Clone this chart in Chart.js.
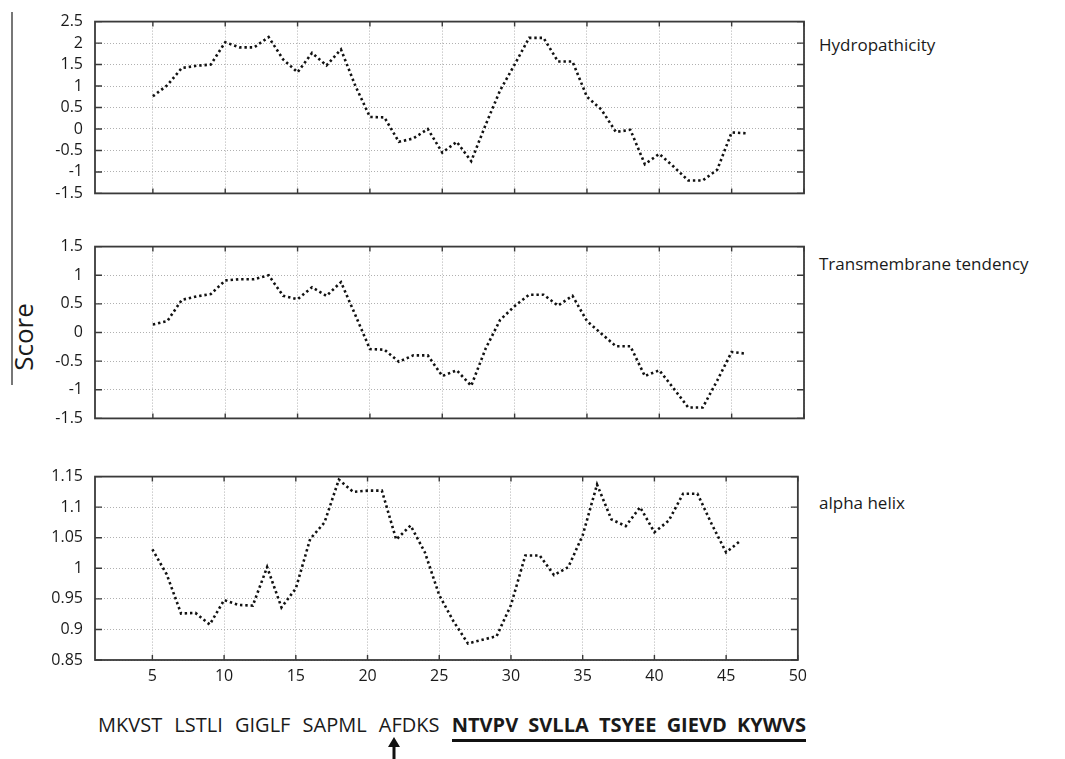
<!DOCTYPE html>
<html lang="en">
<head>
  <meta charset="UTF-8">
  <title>Score profiles</title>
  <script src="https://cdn.jsdelivr.net/npm/chart.js"></script>
  <style>
    body {
      margin: 0;
      background: #fff;
      font-family: 'Open Sans', sans-serif;
      color: #1a1a1a;
    }
    #wrap { position: relative; width: 1065px; height: 759px; overflow: hidden; }
    canvas { position: absolute; left: 0; }
    .name { position: absolute; left: 819px; font-size: 17px; line-height: 22px; white-space: nowrap; }
    #frameLine { position: absolute; left: 11px; top: 12px; width: 2px; height: 373px; background: #777; }
    #score {
      position: absolute; left: 23px; top: 337px;
      font-size: 26px; line-height: 26px;
      transform: translate(-50%, -50%) rotate(-90deg);
      white-space: nowrap;
    }
    #seq {
      position: absolute; left: 98px; top: 712px;
      font-size: 20px; line-height: 26px; white-space: nowrap; word-spacing: 7px;
    }
    #seq b { display: inline-block; border-bottom: 3px solid #111; line-height: 22px; padding-bottom: 3px; word-spacing: 5px; }
    #arrow { position: absolute; left: 387px; top: 737px; }
  </style>
</head>
<body>
<div id="wrap">
  <div id="frameLine"></div>
  <div id="score">Score</div>

  <canvas id="c1" width="814" height="215" style="top:0px"></canvas>
  <canvas id="c2" width="814" height="215" style="top:225px"></canvas>
  <canvas id="c3" width="814" height="240" style="top:455px"></canvas>

  <div class="name" style="top:34px">Hydropathicity</div>
  <div class="name" style="top:253px">Transmembrane tendency</div>
  <div class="name" style="top:492px">alpha helix</div>

  <div id="seq">MKVST LSTLI GIGLF SAPML AFDKS <b>NTVPV SVLLA TSYEE GIEVD KYWVS</b></div>
  <svg id="arrow" width="14" height="22">
    <polygon points="7,0 13,10 1,10" fill="#111"/>
    <rect x="5.5" y="8" width="3" height="14" fill="#111"/>
  </svg>
</div>

<script>
  // residue positions (centre of the sliding window)
  const positions = [5, 6, 7, 8, 9, 10, 11, 12, 13, 14, 15, 16, 17, 18, 19, 20, 21, 22, 23, 24, 25,
                     26, 27, 28, 29, 30, 31, 32, 33, 34, 35, 36, 37, 38, 39, 40, 41, 42, 43, 44, 45, 46];

  const hydropathicity = [0.76, 1.02, 1.42, 1.47, 1.5, 2.02, 1.9, 1.9, 2.14, 1.62, 1.32, 1.77, 1.48, 1.85,
                          1.0, 0.28, 0.27, -0.3, -0.22, 0.0, -0.55, -0.3, -0.75, 0.1, 0.9, 1.5, 2.12, 2.12,
                          1.57, 1.57, 0.75, 0.45, -0.07, -0.02, -0.82, -0.58, -0.88, -1.2, -1.2, -0.95, -0.08, -0.1];

  const transmembrane = [0.14, 0.2, 0.57, 0.63, 0.67, 0.91, 0.93, 0.93, 1.0, 0.64, 0.58, 0.79, 0.64, 0.88,
                         0.3, -0.29, -0.3, -0.51, -0.4, -0.4, -0.76, -0.66, -0.93, -0.28, 0.22, 0.46, 0.66, 0.66,
                         0.47, 0.64, 0.2, -0.02, -0.24, -0.24, -0.76, -0.66, -0.98, -1.31, -1.31, -0.84, -0.34, -0.37];

  const alphaHelix = [1.031, 0.99, 0.926, 0.927, 0.908, 0.948, 0.94, 0.939, 1.002, 0.936, 0.967, 1.048, 1.075, 1.145,
                      1.125, 1.127, 1.127, 1.047, 1.07, 1.026, 0.956, 0.913, 0.877, 0.883, 0.889, 0.94, 1.021, 1.021,
                      0.989, 1.002, 1.054, 1.137, 1.08, 1.069, 1.1, 1.059, 1.078, 1.122, 1.122, 1.072, 1.026, 1.045];

  const xTicks = [5, 10, 15, 20, 25, 30, 35, 40, 45, 50];
  const yTicksHydro = [-1.5, -1, -0.5, 0, 0.5, 1, 1.5, 2, 2.5];
  const yTicksTrans = [-1.5, -1, -0.5, 0, 0.5, 1, 1.5];
  const yTicksAlpha = [0.85, 0.9, 0.95, 1, 1.05, 1.1, 1.15];

  const tickFont = { family: "'Open Sans', sans-serif", size: 16 };

  // box round the plot area, with small inward ticks on all four sides
  const framePlugin = {
    id: 'frame',
    afterDatasetsDraw(chart) {
      const { ctx, chartArea: a, scales: { x, y } } = chart;
      ctx.save();
      ctx.setLineDash([]);
      ctx.strokeStyle = '#3a3a3a';
      ctx.lineWidth = 1.8;
      ctx.strokeRect(a.left, a.top, a.right - a.left, a.bottom - a.top);
      ctx.lineWidth = 1.4;
      ctx.beginPath();
      x.ticks.forEach(t => {
        const px = x.getPixelForValue(t.value);
        ctx.moveTo(px, a.top); ctx.lineTo(px, a.top + 5);
        ctx.moveTo(px, a.bottom); ctx.lineTo(px, a.bottom - 5);
      });
      y.ticks.forEach(t => {
        const py = y.getPixelForValue(t.value);
        ctx.moveTo(a.right, py); ctx.lineTo(a.right - 7, py);
        ctx.moveTo(a.left, py); ctx.lineTo(a.left + 7, py);
      });
      ctx.stroke();
      ctx.restore();
    }
  };

  function makePanel(id, values, yMin, yMax, yTicks, showX, pad) {
    new Chart(document.getElementById(id), {
      type: 'line',
      data: {
        datasets: [{
          data: positions.map((p, i) => ({ x: p, y: values[i] })),
          borderColor: '#111',
          borderWidth: 2.6,
          borderDash: [2.4, 2.9],
          pointRadius: 0,
          tension: 0,
          fill: false
        }]
      },
      options: {
        responsive: false,
        animation: false,
        layout: { padding: pad },
        plugins: { legend: { display: false }, tooltip: { enabled: false } },
        scales: {
          x: {
            type: 'linear',
            min: 1,
            max: 50,
            afterBuildTicks: s => { s.ticks = xTicks.map(v => ({ value: v })); },
            afterFit: s => { s.height = showX ? 30 : 0; },
            grid: { color: '#b0b0b0', lineWidth: 1, drawTicks: false },
            border: { display: false, dash: [1, 2] },
            ticks: { display: showX, padding: 7, color: '#1a1a1a', font: tickFont }
          },
          y: {
            min: yMin,
            max: yMax,
            afterBuildTicks: s => { s.ticks = yTicks.map(v => ({ value: v })); },
            afterFit: s => { s.width = 95; },
            grid: { color: '#b0b0b0', lineWidth: 1, drawTicks: false },
            border: { display: false, dash: [1, 2] },
            ticks: { padding: 12, color: '#1a1a1a', font: tickFont, callback: v => String(v) }
          }
        }
      },
      plugins: [framePlugin]
    });
  }

  makePanel('c1', hydropathicity, -1.5, 2.5, yTicksHydro, false, { top: 20, bottom: 13, right: 10 });
  makePanel('c2', transmembrane, -1.5, 1.5, yTicksTrans, false, { top: 16, bottom: 14, right: 10 });
  makePanel('c3', alphaHelix, 0.85, 1.15, yTicksAlpha, true, { top: 21, bottom: 5, right: 10 });
</script>
</body>
</html>
